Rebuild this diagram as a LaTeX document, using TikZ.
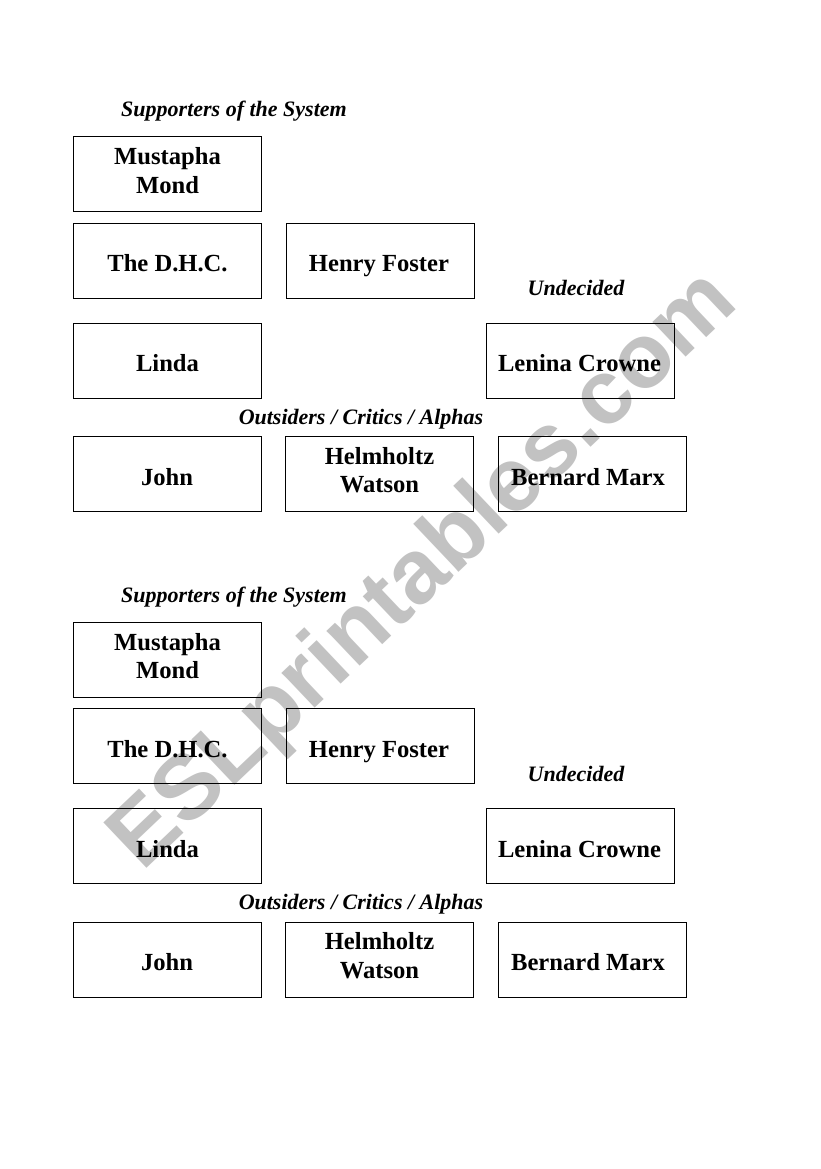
\documentclass[tikz,border=0pt]{standalone}
\usepackage{fontspec}
\setmainfont{Liberation Serif}
\newfontfamily\wmfont{Liberation Sans}
\begin{document}
\begin{tikzpicture}[x=1pt,y=-1pt,
  card/.style={draw=black,line width=1pt,minimum width=188pt,minimum height=75pt,inner sep=0pt},
  cardtext/.style={inner sep=0pt,align=center,font=\fontsize{24.6}{28.6}\selectfont\bfseries},
  grouplabel/.style={inner sep=0pt,anchor=base,font=\fontsize{22}{26}\selectfont\bfseries\itshape},
  watermark/.style={inner sep=0pt,text=black!24,font=\wmfont\fontsize{91}{91}\selectfont\bfseries}]
\useasboundingbox (0,0) rectangle (821,1169);
\fill[white] (0,0) rectangle (821,1169);
\node[watermark,rotate=43.5] (wm) at (425,572) {ESLprintables.com};
\foreach \s/\dy in {a/0,b/485.5}{
  \begin{scope}[shift={(0,\dy)}]
  \node[grouplabel] (sup\s) at (234,116.5) {Supporters of the System};
  \node[grouplabel] (und\s) at (576,295.5) {Undecided};
  \node[grouplabel] (out\s) at (361,424) {Outsiders / Critics / Alphas};
  % boxes
  \node[card] (mm\s) at (167.5,174) {};
  \node[card] (dhc\s) at (167.5,260.5) {};
  \node[card] (hf\s) at (380,260.5) {};
  \node[card] (linda\s) at (167.5,360.5) {};
  \node[card] (lc\s) at (580,360.5) {};
  \node[card] (john\s) at (167.5,474) {};
  \node[card] (hw\s) at (379.5,474) {};
  \node[card] (bm\s) at (592.5,474) {};
  % texts
  \node[cardtext,anchor=north] (mmt\s) at (167.5,147.3) {Mustapha\\Mond};
  \node[cardtext,anchor=base] (dhct\s) at (167.5,271.5) {The D.H.C.};
  \node[cardtext,anchor=base] (hft\s) at (379,271.5) {Henry Foster};
  \node[cardtext,anchor=base] (lindat\s) at (167.5,371.5) {Linda};
  \node[cardtext,anchor=base] (lct\s) at (579.5,371.5) {Lenina Crowne};
  \node[cardtext,anchor=base] (johnt\s) at (167,485) {John};
  \node[cardtext,anchor=north] (hwt\s) at (379.5,446.8) {Helmholtz\\Watson};
  \node[cardtext,anchor=base] (bmt\s) at (588,485) {Bernard Marx};
  \end{scope}
}
\end{tikzpicture}
\end{document}
